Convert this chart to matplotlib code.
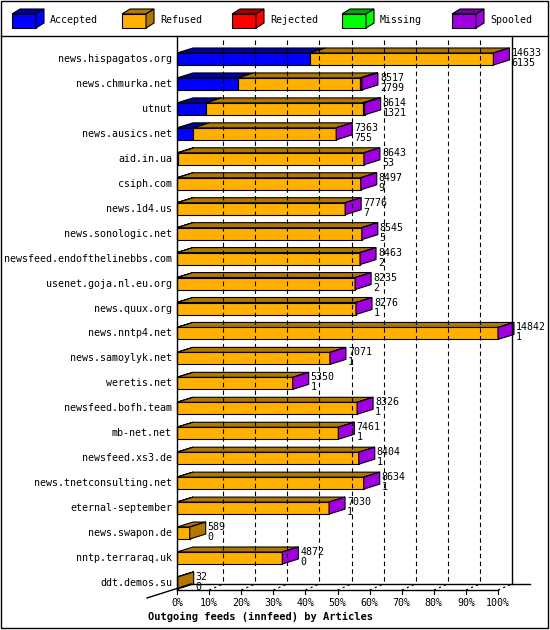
import matplotlib
matplotlib.use("Agg")
from matplotlib import pyplot as plt
from matplotlib import patches

hosts = ["news.hispagatos.org", "news.chmurka.net", "utnut", "news.ausics.net",
         "aid.in.ua", "csiph.com", "news.1d4.us", "news.sonologic.net",
         "newsfeed.endofthelinebbs.com", "usenet.goja.nl.eu.org", "news.quux.org",
         "news.nntp4.net", "news.samoylyk.net", "weretis.net", "newsfeed.bofh.team",
         "mb-net.net", "newsfeed.xs3.de", "news.tnetconsulting.net",
         "eternal-september", "news.swapon.de", "nntp.terraraq.uk", "ddt.demos.su"]
offered = [14633, 8517, 8614, 7363, 8643, 8497, 7776, 8545, 8463, 8235, 8276,
           14842, 7071, 5350, 8326, 7461, 8404, 8634, 7030, 589, 4872, 32]
accepted = [6135, 2799, 1321, 755, 53, 9, 7, 5, 2, 2, 1,
            1, 1, 1, 1, 1, 1, 1, 1, 0, 0, 0]
rejected = [0, 60, 30, 0, 0, 0, 0, 0, 0, 0, 0,
            0, 0, 0, 0, 0, 0, 0, 0, 0, 0, 0]
spooled = [1, 1, 1, 1, 1, 1, 1, 1, 1, 1, 1,
           1, 1, 1, 1, 1, 1, 1, 1, 0, 1, 0]
legend = ["Accepted", "Refused", "Rejected", "Missing", "Spooled"]
ticks = [0, 10, 20, 30, 40, 50, 60, 70, 80, 90, 100]

front = {"blue": "#0000ff", "orange": "#ffb000", "red": "#ff0000",
         "green": "#00ff00", "purple": "#a000e0"}
top = {"blue": "#0000a8", "orange": "#b07800", "red": "#a80000",
       "green": "#00a800", "purple": "#7000a0"}
legcols = ["blue", "orange", "red", "green", "purple"]

fig = plt.figure(figsize=(5.5, 6.3), dpi=100)
ax = fig.add_axes([0, 0, 1, 1])
ax.set_xlim(0, 550)
ax.set_ylim(630, 0)
ax.axis("off")
mono = "DejaVu Sans Mono"
fs = 7.2

def box3d(x0, x1, yc, col, h=12, dx=16, dy=5, cap=None):
    yt = yc - h / 2
    ax.add_patch(patches.Polygon([(x0, yt), (x0 + dx, yt - dy), (x1 + dx, yt - dy), (x1, yt)],
                                 closed=True, fc=top[col], ec="black", lw=0.8))
    ax.add_patch(patches.Rectangle((x0, yt), x1 - x0, h, fc=front[col], ec="black", lw=0.8))
    if cap:
        ax.add_patch(patches.Polygon([(x1, yt), (x1 + dx, yt - dy), (x1 + dx, yt - dy + h), (x1, yt + h)],
                                     closed=True, fc=front[cap] if cap != "orange" else top[cap],
                                     ec="black", lw=0.8))

# border and legend
ax.add_patch(patches.Rectangle((1, 1), 547, 627, fc="none", ec="black", lw=1))
ax.plot([1, 548], [36, 36], color="black", lw=1)
for i, (lab, c) in enumerate(zip(legend, legcols)):
    lx = 12 + i * 110
    box3d(lx, lx + 24, 21, c, h=14, dx=8, dy=5, cap=c)
    ax.text(lx + 38, 20, lab, fontsize=fs, family=mono, va="center")

# axes geometry
x0, x100 = 177, 498
gdx, gdy = 14, 6
ybase = 590
scale = (x100 - x0) / max(offered)
ax.plot([x0, x0], [36, ybase], color="black", lw=1)
ax.plot([x100 + gdx, x100 + gdx], [36, ybase - gdy], color="black", lw=1)
ax.plot([x0, x100], [ybase, ybase], color="black", lw=1)
ax.plot([x0 + gdx, x100 + gdx + 18], [ybase - gdy, ybase - gdy], color="black", lw=1)
ax.plot([x0 - 30, x0 + gdx], [ybase + 8, ybase - gdy], color="black", lw=1)
for t in ticks:
    gx = x0 + (x100 - x0) * t / 100
    if 0 < t < 100:
        ax.plot([gx + gdx, gx + gdx], [40, ybase - gdy], color="black", lw=0.8, ls=(0, (4, 3)))
    ax.plot([gx, gx + gdx], [ybase, ybase - gdy], color="black", lw=0.8, ls=(0, (2, 3)))
    ax.plot([gx, gx], [ybase, ybase + 4], color="black", lw=0.8)
    ax.text(gx, 603, f"{t}%", fontsize=fs, family=mono, ha="center", va="center")
ax.text(148, 617, "Outgoing feeds (innfeed) by Articles", fontsize=fs + 0.3,
        family=mono, weight="bold", va="center")

# bars
for i, h in enumerate(hosts):
    yc = 59 + i * 24.95
    ax.text(172, yc, h, fontsize=fs, family=mono, ha="right", va="center")
    tot = offered[i]
    acc = accepted[i]
    rej = rejected[i]
    segs = [("blue", acc), ("orange", tot - acc - rej), ("red", rej)]
    pos = x0
    last = "orange"
    for c, v in segs:
        if v <= 0:
            continue
        w = v * scale
        if c == "red":
            w = max(w, 2)
        box3d(pos, pos + w, yc, c)
        pos += w
        last = c
    cap = "purple" if spooled[i] else "orange"
    box3d(pos, pos, yc, last, cap=cap)
    ax.text(pos + 18, yc - 6, str(tot), fontsize=fs, family=mono, va="center")
    ax.text(pos + 18, yc + 4, str(acc), fontsize=fs, family=mono, va="center")

fig.savefig("out.png", dpi=100)
